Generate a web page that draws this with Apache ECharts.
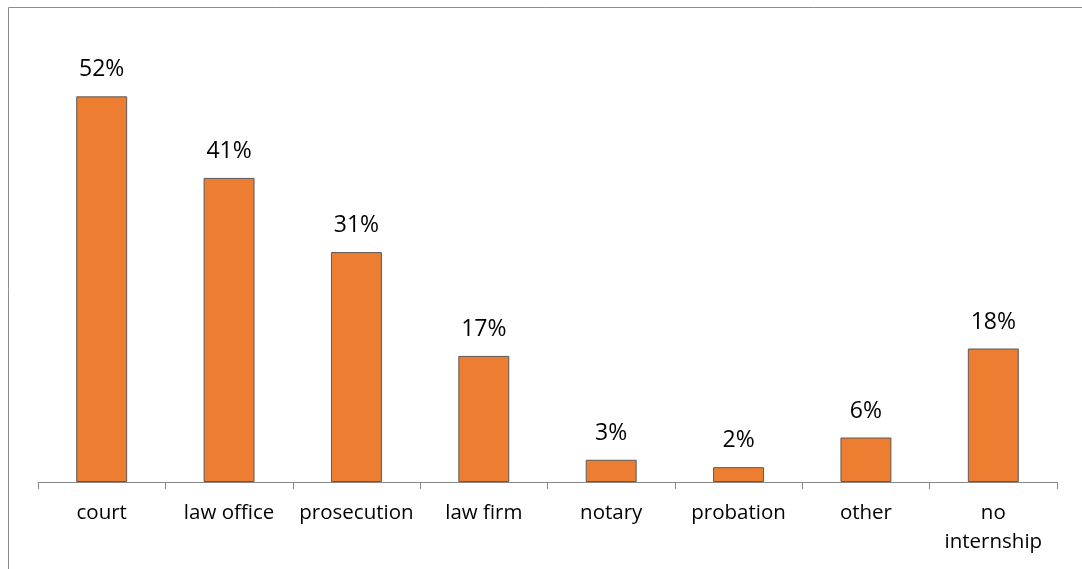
<!DOCTYPE html>
<html>
<head>
<meta charset="utf-8">
<script src="https://cdn.jsdelivr.net/npm/echarts@6/dist/echarts.min.js"></script>
<style>
html,body{margin:0;padding:0;background:#fff;}
#chart{width:1082px;height:569px;}
</style>
</head>
<body>
<div id="chart"></div>
<script>
const categories = ['court', 'law office', 'prosecution', 'law firm', 'notary', 'probation', 'other', 'no\ninternship'];
const values = [52, 41, 31, 17, 3, 2, 6, 18];

const chart = echarts.init(document.getElementById('chart'), null, {renderer: 'canvas'});
const font = '"Open Sans", "Liberation Sans", sans-serif';
chart.setOption({
  animation: false,
  backgroundColor: '#fff',
  graphic: [
    {type: 'line', shape: {x1: 8.5, y1: 7.5, x2: 1082, y2: 7.5}, style: {stroke: '#8c8c8c', lineWidth: 1}},
    {type: 'line', shape: {x1: 8.5, y1: 7.5, x2: 8.5, y2: 569}, style: {stroke: '#8c8c8c', lineWidth: 1}}
  ],
  grid: {left: 38, right: 25, top: 37, bottom: 87, containLabel: false},
  xAxis: {
    type: 'category',
    data: categories,
    axisLine: {lineStyle: {color: '#888', width: 1}},
    axisTick: {show: true, length: 7, lineStyle: {color: '#888'}},
    axisLabel: {color: '#000', fontSize: 20.5, fontFamily: font, margin: 17, lineHeight: 29, interval: 0}
  },
  yAxis: {
    type: 'value', min: 0, max: 60,
    show: false, splitLine: {show: false}
  },
  series: [{
    type: 'bar',
    data: values,
    barWidth: '40%',
    itemStyle: {color: '#ED7D31', borderColor: '#5a5a5a', borderWidth: 1},
    label: {
      show: true, position: 'top', distance: 15,
      formatter: p => p.value + '%',
      color: '#000', fontSize: 23, fontFamily: font
    }
  }]
});
</script>
</body>
</html>
